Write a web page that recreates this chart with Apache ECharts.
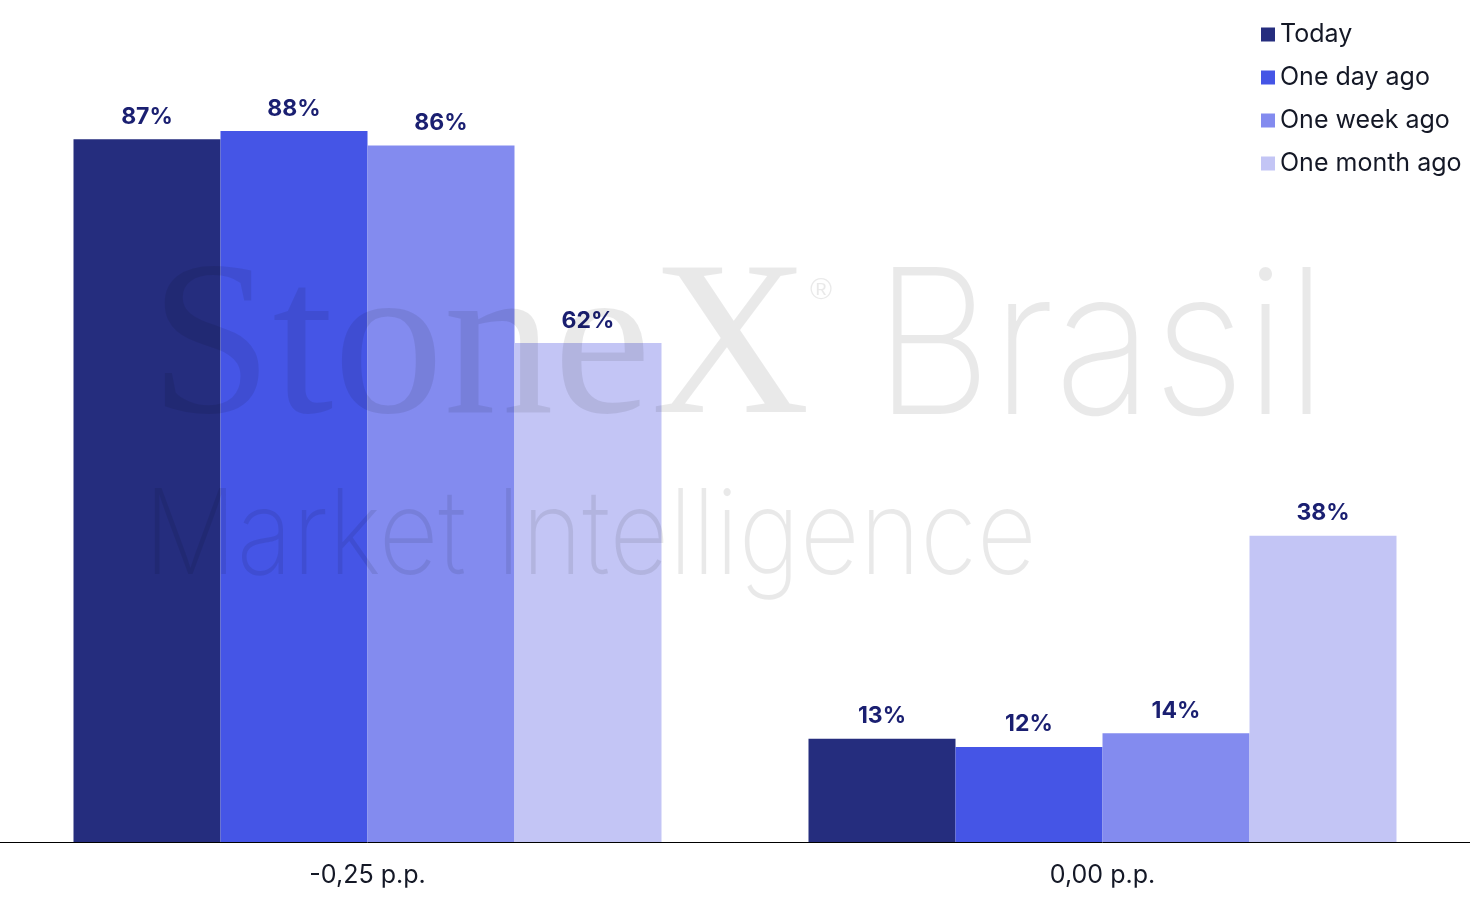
<!DOCTYPE html>
<html>
<head>
<meta charset="utf-8">
<script src="https://cdn.jsdelivr.net/npm/echarts@6/dist/echarts.min.js"></script>
<style>
html,body{margin:0;padding:0;background:#fff;}
#chart{width:1470px;height:910px;}
</style>
</head>
<body>
<div id="chart"></div>
<script>
const categories = ['-0,25 p.p.', '0,00 p.p.'];
const seriesNames = ['Today', 'One day ago', 'One week ago', 'One month ago'];
const today = [87.2, 12.8];
const oneDayAgo = [88.2, 11.8];
const oneWeekAgo = [86.4, 13.5];
const oneMonthAgo = [61.9, 38.0];
const colors = ['#252D7E', '#4555E6', '#838BEF', '#C3C5F5'];

const values = [today, oneDayAgo, oneWeekAgo, oneMonthAgo];

const chart = echarts.init(document.getElementById('chart'));
const font = 'Inter';
const wm = 'rgba(0,0,0,0.085)';
chart.setOption({
  animation: false,
  color: colors,
  grid: { left: 0, right: 0, top: 36, bottom: 68, containLabel: false },
  legend: {
    orient: 'vertical',
    left: 1256,
    top: 17,
    itemWidth: 14,
    itemHeight: 14,
    itemGap: 18,
    icon: 'rect',
    textStyle: { fontFamily: font, fontSize: 25, color: '#141826', padding: [0, 0, 0, 0] },
    data: seriesNames
  },
  xAxis: {
    type: 'category',
    data: categories,
    axisLine: { lineStyle: { color: '#000', width: 1 } },
    axisTick: { show: false },
    axisLabel: { fontFamily: font, fontSize: 25, color: '#141826', margin: 21 }
  },
  yAxis: {
    type: 'value', min: 0, max: 100, show: false,
    splitLine: { show: false }
  },
  series: seriesNames.map((n, i) => ({
    name: n,
    type: 'bar',
    data: values[i],
    barGap: '0%',
    barCategoryGap: '20%',
    label: {
      show: true,
      position: 'top',
      distance: 11,
      fontFamily: font,
      fontWeight: 'bold',
      fontSize: 23,
      color: '#1A1F71',
      formatter: p => Math.round(p.value) + '%'
    }
  })),
  graphic: [
    {
      type: 'text', z: 100, left: 150, top: 244, silent: true,
      style: { text: 'StoneX', font: '220px "Liberation Serif"', fill: wm }
    },
    {
      type: 'text', z: 100, left: 810, top: 276, silent: true,
      style: { text: '®', font: '30px "Liberation Sans"', fill: wm }
    },
    {
      type: 'text', z: 100, left: 874, top: 252, scaleX: 0.905, silent: true,
      style: { text: 'Brasil', font: '200 202px "Inter"', fill: wm }
    },
    {
      type: 'text', z: 100, left: 144, top: 480, scaleX: 0.877, silent: true,
      style: { text: 'Market Intelligence', font: '200 118px "Inter"', fill: wm }
    }
  ]
});
</script>
</body>
</html>
